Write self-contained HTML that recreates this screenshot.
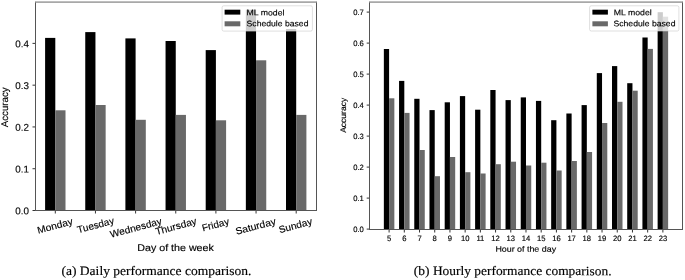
<!DOCTYPE html>
<html><head><meta charset="utf-8"><style>
html,body{margin:0;padding:0;background:#fff;width:685px;height:280px;overflow:hidden;}
svg{display:block;position:absolute;left:0;top:0;will-change:transform;}
text{text-rendering:geometricPrecision;}

</style></head><body>
<svg width="685" height="280" viewBox="0 0 685 280">
<rect x="45.10" y="37.90" width="10.20" height="172.60" fill="#000"/>
<rect x="55.30" y="110.30" width="10.20" height="100.20" fill="#696969"/>
<rect x="85.25" y="32.10" width="10.20" height="178.40" fill="#000"/>
<rect x="95.45" y="105.00" width="10.20" height="105.50" fill="#696969"/>
<rect x="125.40" y="38.40" width="10.20" height="172.10" fill="#000"/>
<rect x="135.60" y="119.80" width="10.20" height="90.70" fill="#696969"/>
<rect x="165.55" y="41.00" width="10.20" height="169.50" fill="#000"/>
<rect x="175.75" y="114.90" width="10.20" height="95.60" fill="#696969"/>
<rect x="205.70" y="50.10" width="10.20" height="160.40" fill="#000"/>
<rect x="215.90" y="120.30" width="10.20" height="90.20" fill="#696969"/>
<rect x="245.85" y="9.70" width="10.20" height="200.80" fill="#000"/>
<rect x="256.05" y="60.30" width="10.20" height="150.20" fill="#696969"/>
<rect x="286.00" y="29.00" width="10.20" height="181.50" fill="#000"/>
<rect x="296.20" y="114.90" width="10.20" height="95.60" fill="#696969"/>
<rect x="383.85" y="49.00" width="5.25" height="180.50" fill="#000"/>
<rect x="389.10" y="98.30" width="5.25" height="131.20" fill="#696969"/>
<rect x="399.06" y="80.90" width="5.25" height="148.60" fill="#000"/>
<rect x="404.31" y="112.90" width="5.25" height="116.60" fill="#696969"/>
<rect x="414.27" y="98.80" width="5.25" height="130.70" fill="#000"/>
<rect x="419.52" y="150.00" width="5.25" height="79.50" fill="#696969"/>
<rect x="429.48" y="110.10" width="5.25" height="119.40" fill="#000"/>
<rect x="434.73" y="176.20" width="5.25" height="53.30" fill="#696969"/>
<rect x="444.69" y="102.30" width="5.25" height="127.20" fill="#000"/>
<rect x="449.94" y="157.00" width="5.25" height="72.50" fill="#696969"/>
<rect x="459.90" y="96.10" width="5.25" height="133.40" fill="#000"/>
<rect x="465.15" y="172.20" width="5.25" height="57.30" fill="#696969"/>
<rect x="475.11" y="109.70" width="5.25" height="119.80" fill="#000"/>
<rect x="480.36" y="173.50" width="5.25" height="56.00" fill="#696969"/>
<rect x="490.32" y="90.00" width="5.25" height="139.50" fill="#000"/>
<rect x="495.57" y="164.20" width="5.25" height="65.30" fill="#696969"/>
<rect x="505.53" y="100.10" width="5.25" height="129.40" fill="#000"/>
<rect x="510.78" y="161.70" width="5.25" height="67.80" fill="#696969"/>
<rect x="520.74" y="97.40" width="5.25" height="132.10" fill="#000"/>
<rect x="525.99" y="165.50" width="5.25" height="64.00" fill="#696969"/>
<rect x="535.95" y="100.90" width="5.25" height="128.60" fill="#000"/>
<rect x="541.20" y="162.70" width="5.25" height="66.80" fill="#696969"/>
<rect x="551.16" y="120.20" width="5.25" height="109.30" fill="#000"/>
<rect x="556.41" y="170.50" width="5.25" height="59.00" fill="#696969"/>
<rect x="566.37" y="113.50" width="5.25" height="116.00" fill="#000"/>
<rect x="571.62" y="161.00" width="5.25" height="68.50" fill="#696969"/>
<rect x="581.58" y="105.10" width="5.25" height="124.40" fill="#000"/>
<rect x="586.83" y="152.00" width="5.25" height="77.50" fill="#696969"/>
<rect x="596.79" y="73.10" width="5.25" height="156.40" fill="#000"/>
<rect x="602.04" y="123.00" width="5.25" height="106.50" fill="#696969"/>
<rect x="612.00" y="66.10" width="5.25" height="163.40" fill="#000"/>
<rect x="617.25" y="101.80" width="5.25" height="127.70" fill="#696969"/>
<rect x="627.21" y="83.20" width="5.25" height="146.30" fill="#000"/>
<rect x="632.46" y="90.70" width="5.25" height="138.80" fill="#696969"/>
<rect x="642.42" y="37.50" width="5.25" height="192.00" fill="#000"/>
<rect x="647.67" y="48.90" width="5.25" height="180.60" fill="#696969"/>
<rect x="657.63" y="12.20" width="5.25" height="217.30" fill="#000"/>
<rect x="662.88" y="16.70" width="5.25" height="212.80" fill="#696969"/>
<line x1="32.50" y1="210.50" x2="35.50" y2="210.50" stroke="#000" stroke-width="0.8"/>
<line x1="32.50" y1="168.72" x2="35.50" y2="168.72" stroke="#000" stroke-width="0.8"/>
<line x1="32.50" y1="126.94" x2="35.50" y2="126.94" stroke="#000" stroke-width="0.8"/>
<line x1="32.50" y1="85.16" x2="35.50" y2="85.16" stroke="#000" stroke-width="0.8"/>
<line x1="32.50" y1="43.38" x2="35.50" y2="43.38" stroke="#000" stroke-width="0.8"/>
<line x1="55.30" y1="210.50" x2="55.30" y2="213.50" stroke="#000" stroke-width="0.8"/>
<line x1="95.45" y1="210.50" x2="95.45" y2="213.50" stroke="#000" stroke-width="0.8"/>
<line x1="135.60" y1="210.50" x2="135.60" y2="213.50" stroke="#000" stroke-width="0.8"/>
<line x1="175.75" y1="210.50" x2="175.75" y2="213.50" stroke="#000" stroke-width="0.8"/>
<line x1="215.90" y1="210.50" x2="215.90" y2="213.50" stroke="#000" stroke-width="0.8"/>
<line x1="256.05" y1="210.50" x2="256.05" y2="213.50" stroke="#000" stroke-width="0.8"/>
<line x1="296.20" y1="210.50" x2="296.20" y2="213.50" stroke="#000" stroke-width="0.8"/>
<line x1="366.70" y1="229.10" x2="369.50" y2="229.10" stroke="#333" stroke-width="1.0"/>
<line x1="366.70" y1="198.10" x2="369.50" y2="198.10" stroke="#333" stroke-width="1.0"/>
<line x1="366.70" y1="167.10" x2="369.50" y2="167.10" stroke="#333" stroke-width="1.0"/>
<line x1="366.70" y1="136.10" x2="369.50" y2="136.10" stroke="#333" stroke-width="1.0"/>
<line x1="366.70" y1="105.10" x2="369.50" y2="105.10" stroke="#333" stroke-width="1.0"/>
<line x1="366.70" y1="74.10" x2="369.50" y2="74.10" stroke="#333" stroke-width="1.0"/>
<line x1="366.70" y1="43.10" x2="369.50" y2="43.10" stroke="#333" stroke-width="1.0"/>
<line x1="366.70" y1="12.10" x2="369.50" y2="12.10" stroke="#333" stroke-width="1.0"/>
<line x1="389.10" y1="229.50" x2="389.10" y2="232.50" stroke="#333" stroke-width="1.0"/>
<line x1="404.31" y1="229.50" x2="404.31" y2="232.50" stroke="#333" stroke-width="1.0"/>
<line x1="419.52" y1="229.50" x2="419.52" y2="232.50" stroke="#333" stroke-width="1.0"/>
<line x1="434.73" y1="229.50" x2="434.73" y2="232.50" stroke="#333" stroke-width="1.0"/>
<line x1="449.94" y1="229.50" x2="449.94" y2="232.50" stroke="#333" stroke-width="1.0"/>
<line x1="465.15" y1="229.50" x2="465.15" y2="232.50" stroke="#333" stroke-width="1.0"/>
<line x1="480.36" y1="229.50" x2="480.36" y2="232.50" stroke="#333" stroke-width="1.0"/>
<line x1="495.57" y1="229.50" x2="495.57" y2="232.50" stroke="#333" stroke-width="1.0"/>
<line x1="510.78" y1="229.50" x2="510.78" y2="232.50" stroke="#333" stroke-width="1.0"/>
<line x1="525.99" y1="229.50" x2="525.99" y2="232.50" stroke="#333" stroke-width="1.0"/>
<line x1="541.20" y1="229.50" x2="541.20" y2="232.50" stroke="#333" stroke-width="1.0"/>
<line x1="556.41" y1="229.50" x2="556.41" y2="232.50" stroke="#333" stroke-width="1.0"/>
<line x1="571.62" y1="229.50" x2="571.62" y2="232.50" stroke="#333" stroke-width="1.0"/>
<line x1="586.83" y1="229.50" x2="586.83" y2="232.50" stroke="#333" stroke-width="1.0"/>
<line x1="602.04" y1="229.50" x2="602.04" y2="232.50" stroke="#333" stroke-width="1.0"/>
<line x1="617.25" y1="229.50" x2="617.25" y2="232.50" stroke="#333" stroke-width="1.0"/>
<line x1="632.46" y1="229.50" x2="632.46" y2="232.50" stroke="#333" stroke-width="1.0"/>
<line x1="647.67" y1="229.50" x2="647.67" y2="232.50" stroke="#333" stroke-width="1.0"/>
<line x1="662.88" y1="229.50" x2="662.88" y2="232.50" stroke="#333" stroke-width="1.0"/>
<rect x="222.10" y="5.80" width="90.30" height="25.30" rx="1.6" fill="#fff" fill-opacity="0.8" stroke="#cccccc" stroke-opacity="0.8" stroke-width="0.8"/>
<rect x="224.60" y="9.7" width="15.70" height="4.9" fill="#000"/>
<rect x="224.60" y="21.3" width="15.70" height="5.0" fill="#696969"/>
<rect x="589.60" y="5.80" width="89.30" height="25.20" rx="1.6" fill="#fff" fill-opacity="0.8" stroke="#cccccc" stroke-opacity="0.8" stroke-width="0.8"/>
<rect x="592.40" y="9.7" width="15.50" height="4.9" fill="#000"/>
<rect x="592.40" y="21.3" width="15.50" height="5.0" fill="#696969"/>
<line x1="35.50" y1="1.60" x2="35.50" y2="211.00" stroke="#555555" stroke-width="1.0"/>
<line x1="316.50" y1="1.60" x2="316.50" y2="211.00" stroke="#555555" stroke-width="1.0"/>
<line x1="35.50" y1="210.50" x2="316.50" y2="210.50" stroke="#555555" stroke-width="1.0"/>
<line x1="35.50" y1="2.10" x2="316.50" y2="2.10" stroke="#a8a8a8" stroke-width="1.6"/>
<line x1="369.50" y1="1.60" x2="369.50" y2="230.00" stroke="#555555" stroke-width="1.0"/>
<line x1="682.50" y1="1.60" x2="682.50" y2="230.00" stroke="#555555" stroke-width="1.0"/>
<line x1="369.50" y1="229.50" x2="682.50" y2="229.50" stroke="#555555" stroke-width="1.0"/>
<line x1="369.50" y1="2.10" x2="682.50" y2="2.10" stroke="#a8a8a8" stroke-width="1.6"/>
<text font-size="9.800" font-family='"Liberation Sans", sans-serif' text-anchor="end" fill="#000" stroke="#000" stroke-width="0.15" stroke-linejoin="round" transform="translate(28.95 214.36) rotate(0.05) scale(1.0016 1)">0.0</text>
<text font-size="9.800" font-family='"Liberation Sans", sans-serif' text-anchor="end" fill="#000" stroke="#000" stroke-width="0.15" stroke-linejoin="round" transform="translate(28.95 172.58) rotate(0.05) scale(1.0016 1)">0.1</text>
<text font-size="9.800" font-family='"Liberation Sans", sans-serif' text-anchor="end" fill="#000" stroke="#000" stroke-width="0.15" stroke-linejoin="round" transform="translate(28.95 130.80) rotate(0.05) scale(1.0016 1)">0.2</text>
<text font-size="9.800" font-family='"Liberation Sans", sans-serif' text-anchor="end" fill="#000" stroke="#000" stroke-width="0.15" stroke-linejoin="round" transform="translate(28.95 89.02) rotate(0.05) scale(1.0016 1)">0.3</text>
<text font-size="9.800" font-family='"Liberation Sans", sans-serif' text-anchor="end" fill="#000" stroke="#000" stroke-width="0.15" stroke-linejoin="round" transform="translate(28.95 47.24) rotate(0.05) scale(1.0016 1)">0.4</text>
<text font-size="7.800" font-family='"Liberation Sans", sans-serif' text-anchor="end" fill="#000" stroke="#000" stroke-width="0.15" stroke-linejoin="round" transform="translate(363.79 231.98) rotate(0.05) scale(0.9793 1)">0.0</text>
<text font-size="7.800" font-family='"Liberation Sans", sans-serif' text-anchor="end" fill="#000" stroke="#000" stroke-width="0.15" stroke-linejoin="round" transform="translate(363.79 200.98) rotate(0.05) scale(0.9793 1)">0.1</text>
<text font-size="7.800" font-family='"Liberation Sans", sans-serif' text-anchor="end" fill="#000" stroke="#000" stroke-width="0.15" stroke-linejoin="round" transform="translate(363.79 169.98) rotate(0.05) scale(0.9793 1)">0.2</text>
<text font-size="7.800" font-family='"Liberation Sans", sans-serif' text-anchor="end" fill="#000" stroke="#000" stroke-width="0.15" stroke-linejoin="round" transform="translate(363.79 138.98) rotate(0.05) scale(0.9793 1)">0.3</text>
<text font-size="7.800" font-family='"Liberation Sans", sans-serif' text-anchor="end" fill="#000" stroke="#000" stroke-width="0.15" stroke-linejoin="round" transform="translate(363.79 107.98) rotate(0.05) scale(0.9793 1)">0.4</text>
<text font-size="7.800" font-family='"Liberation Sans", sans-serif' text-anchor="end" fill="#000" stroke="#000" stroke-width="0.15" stroke-linejoin="round" transform="translate(363.79 76.98) rotate(0.05) scale(0.9793 1)">0.5</text>
<text font-size="7.800" font-family='"Liberation Sans", sans-serif' text-anchor="end" fill="#000" stroke="#000" stroke-width="0.15" stroke-linejoin="round" transform="translate(363.79 45.98) rotate(0.05) scale(0.9793 1)">0.6</text>
<text font-size="7.800" font-family='"Liberation Sans", sans-serif' text-anchor="end" fill="#000" stroke="#000" stroke-width="0.15" stroke-linejoin="round" transform="translate(363.79 14.98) rotate(0.05) scale(0.9793 1)">0.7</text>
<text font-size="7.800" font-family='"Liberation Sans", sans-serif' text-anchor="middle" fill="#000" stroke="#000" stroke-width="0.15" stroke-linejoin="round" transform="translate(389.11 240.94) rotate(0.05) scale(0.9791 1)">5</text>
<text font-size="7.800" font-family='"Liberation Sans", sans-serif' text-anchor="middle" fill="#000" stroke="#000" stroke-width="0.15" stroke-linejoin="round" transform="translate(404.32 240.94) rotate(0.05) scale(0.9791 1)">6</text>
<text font-size="7.800" font-family='"Liberation Sans", sans-serif' text-anchor="middle" fill="#000" stroke="#000" stroke-width="0.15" stroke-linejoin="round" transform="translate(419.53 240.94) rotate(0.05) scale(0.9791 1)">7</text>
<text font-size="7.800" font-family='"Liberation Sans", sans-serif' text-anchor="middle" fill="#000" stroke="#000" stroke-width="0.15" stroke-linejoin="round" transform="translate(434.74 240.94) rotate(0.05) scale(0.9791 1)">8</text>
<text font-size="7.800" font-family='"Liberation Sans", sans-serif' text-anchor="middle" fill="#000" stroke="#000" stroke-width="0.15" stroke-linejoin="round" transform="translate(449.95 240.94) rotate(0.05) scale(0.9791 1)">9</text>
<text font-size="7.800" font-family='"Liberation Sans", sans-serif' text-anchor="middle" fill="#000" stroke="#000" stroke-width="0.15" stroke-linejoin="round" transform="translate(465.16 240.94) rotate(0.05) scale(0.9791 1)">10</text>
<text font-size="7.800" font-family='"Liberation Sans", sans-serif' text-anchor="middle" fill="#000" stroke="#000" stroke-width="0.15" stroke-linejoin="round" transform="translate(480.37 240.94) rotate(0.05) scale(0.9791 1)">11</text>
<text font-size="7.800" font-family='"Liberation Sans", sans-serif' text-anchor="middle" fill="#000" stroke="#000" stroke-width="0.15" stroke-linejoin="round" transform="translate(495.58 240.94) rotate(0.05) scale(0.9791 1)">12</text>
<text font-size="7.800" font-family='"Liberation Sans", sans-serif' text-anchor="middle" fill="#000" stroke="#000" stroke-width="0.15" stroke-linejoin="round" transform="translate(510.79 240.94) rotate(0.05) scale(0.9791 1)">13</text>
<text font-size="7.800" font-family='"Liberation Sans", sans-serif' text-anchor="middle" fill="#000" stroke="#000" stroke-width="0.15" stroke-linejoin="round" transform="translate(526.00 240.94) rotate(0.05) scale(0.9791 1)">14</text>
<text font-size="7.800" font-family='"Liberation Sans", sans-serif' text-anchor="middle" fill="#000" stroke="#000" stroke-width="0.15" stroke-linejoin="round" transform="translate(541.21 240.94) rotate(0.05) scale(0.9791 1)">15</text>
<text font-size="7.800" font-family='"Liberation Sans", sans-serif' text-anchor="middle" fill="#000" stroke="#000" stroke-width="0.15" stroke-linejoin="round" transform="translate(556.42 240.94) rotate(0.05) scale(0.9791 1)">16</text>
<text font-size="7.800" font-family='"Liberation Sans", sans-serif' text-anchor="middle" fill="#000" stroke="#000" stroke-width="0.15" stroke-linejoin="round" transform="translate(571.63 240.94) rotate(0.05) scale(0.9791 1)">17</text>
<text font-size="7.800" font-family='"Liberation Sans", sans-serif' text-anchor="middle" fill="#000" stroke="#000" stroke-width="0.15" stroke-linejoin="round" transform="translate(586.84 240.94) rotate(0.05) scale(0.9791 1)">18</text>
<text font-size="7.800" font-family='"Liberation Sans", sans-serif' text-anchor="middle" fill="#000" stroke="#000" stroke-width="0.15" stroke-linejoin="round" transform="translate(602.05 240.94) rotate(0.05) scale(0.9791 1)">19</text>
<text font-size="7.800" font-family='"Liberation Sans", sans-serif' text-anchor="middle" fill="#000" stroke="#000" stroke-width="0.15" stroke-linejoin="round" transform="translate(617.26 240.94) rotate(0.05) scale(0.9791 1)">20</text>
<text font-size="7.800" font-family='"Liberation Sans", sans-serif' text-anchor="middle" fill="#000" stroke="#000" stroke-width="0.15" stroke-linejoin="round" transform="translate(632.47 240.94) rotate(0.05) scale(0.9791 1)">21</text>
<text font-size="7.800" font-family='"Liberation Sans", sans-serif' text-anchor="middle" fill="#000" stroke="#000" stroke-width="0.15" stroke-linejoin="round" transform="translate(647.68 240.94) rotate(0.05) scale(0.9791 1)">22</text>
<text font-size="7.800" font-family='"Liberation Sans", sans-serif' text-anchor="middle" fill="#000" stroke="#000" stroke-width="0.15" stroke-linejoin="round" transform="translate(662.89 240.94) rotate(0.05) scale(0.9791 1)">23</text>
<text font-size="9.800" font-family='"Liberation Sans", sans-serif' text-anchor="middle" fill="#000" stroke="#000" stroke-width="0.15" stroke-linejoin="round" transform="translate(8.42 107.30) rotate(-90.0) scale(0.9896 1)">Accuracy</text>
<text font-size="8.000" font-family='"Liberation Sans", sans-serif' text-anchor="middle" fill="#000" stroke="#000" stroke-width="0.15" stroke-linejoin="round" transform="translate(346.35 115.34) rotate(-90.0) scale(1.0627 1)">Accuracy</text>
<text font-size="9.800" font-family='"Liberation Sans", sans-serif' text-anchor="middle" fill="#000" stroke="#000" stroke-width="0.15" stroke-linejoin="round" transform="translate(175.56 250.96) rotate(0.05) scale(1.0897 1)">Day of the week</text>
<text font-size="8.000" font-family='"Liberation Sans", sans-serif' text-anchor="middle" fill="#000" stroke="#000" stroke-width="0.15" stroke-linejoin="round" transform="translate(525.72 251.75) rotate(0.05) scale(1.1094 1)">Hour of the day</text>
<text font-size="8.100" font-family='"Liberation Sans", sans-serif' text-anchor="start" fill="#000" stroke="#000" stroke-width="0.15" stroke-linejoin="round" transform="translate(246.48 15.36) rotate(0.05) scale(1.0766 1)">ML model</text>
<text font-size="8.100" font-family='"Liberation Sans", sans-serif' text-anchor="start" fill="#000" stroke="#000" stroke-width="0.15" stroke-linejoin="round" transform="translate(246.58 26.25) rotate(0.05) scale(1.0657 1)">Schedule based</text>
<text font-size="8.100" font-family='"Liberation Sans", sans-serif' text-anchor="start" fill="#000" stroke="#000" stroke-width="0.15" stroke-linejoin="round" transform="translate(613.72 15.31) rotate(0.05) scale(1.0771 1)">ML model</text>
<text font-size="8.100" font-family='"Liberation Sans", sans-serif' text-anchor="start" fill="#000" stroke="#000" stroke-width="0.15" stroke-linejoin="round" transform="translate(613.43 26.25) rotate(0.05) scale(1.0689 1)">Schedule based</text>
<text font-size="12.900" font-family='"Liberation Serif", serif' text-anchor="start" fill="#000" stroke="#000" stroke-width="0.15" stroke-linejoin="round" transform="translate(61.45 274.95) rotate(0.05) scale(1.0494 1)">(a) Daily performance comparison.</text>
<text font-size="12.900" font-family='"Liberation Serif", serif' text-anchor="start" fill="#000" stroke="#000" stroke-width="0.15" stroke-linejoin="round" transform="translate(413.87 274.98) rotate(0.05) scale(1.0417 1)">(b) Hourly performance comparison.</text>
<text font-size="9.800" font-family='"Liberation Sans", sans-serif' text-anchor="middle" fill="#000" stroke="#000" stroke-width="0.15" stroke-linejoin="round" transform="translate(55.86 228.95) rotate(-15.0) scale(1.0398 1)">Monday</text>
<text font-size="9.800" font-family='"Liberation Sans", sans-serif' text-anchor="middle" fill="#000" stroke="#000" stroke-width="0.15" stroke-linejoin="round" transform="translate(96.51 228.39) rotate(-15.0) scale(1.0137 1)">Tuesday</text>
<text font-size="9.800" font-family='"Liberation Sans", sans-serif' text-anchor="middle" fill="#000" stroke="#000" stroke-width="0.15" stroke-linejoin="round" transform="translate(136.71 230.90) rotate(-15.0) scale(1.0310 1)">Wednesday</text>
<text font-size="9.800" font-family='"Liberation Sans", sans-serif' text-anchor="middle" fill="#000" stroke="#000" stroke-width="0.15" stroke-linejoin="round" transform="translate(176.82 229.52) rotate(-15.0) scale(1.0364 1)">Thursday</text>
<text font-size="9.800" font-family='"Liberation Sans", sans-serif' text-anchor="middle" fill="#000" stroke="#000" stroke-width="0.15" stroke-linejoin="round" transform="translate(216.38 227.85) rotate(-15.0) scale(1.0241 1)">Friday</text>
<text font-size="9.800" font-family='"Liberation Sans", sans-serif' text-anchor="middle" fill="#000" stroke="#000" stroke-width="0.15" stroke-linejoin="round" transform="translate(256.44 229.44) rotate(-15.0) scale(1.0586 1)">Saturday</text>
<text font-size="9.800" font-family='"Liberation Sans", sans-serif' text-anchor="middle" fill="#000" stroke="#000" stroke-width="0.15" stroke-linejoin="round" transform="translate(296.30 228.72) rotate(-15.0) scale(1.0318 1)">Sunday</text>
</svg>
</body></html>
